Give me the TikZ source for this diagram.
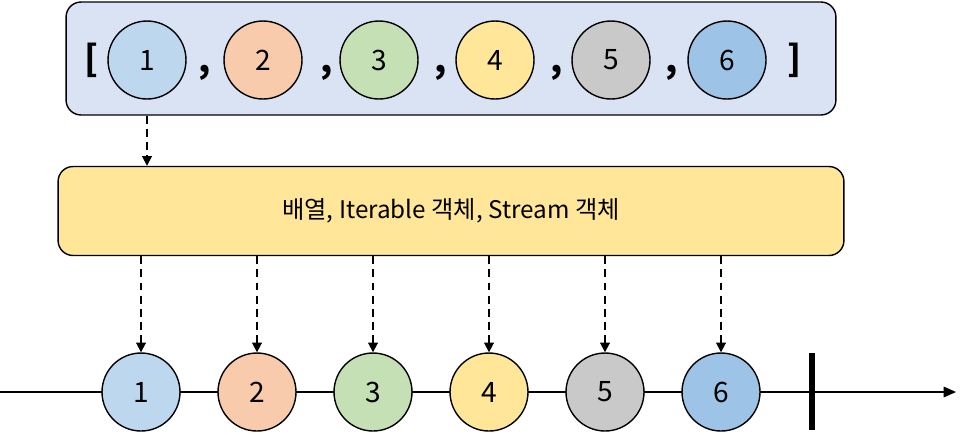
\documentclass[tikz,border=0pt]{standalone}
\usepackage{fontspec}
\setmainfont{Noto Sans CJK KR}
\usetikzlibrary{arrows.meta}
\definecolor{boxblue}{HTML}{DAE3F3}
\definecolor{boxyellow}{HTML}{FFE699}
\definecolor{ballone}{HTML}{BDD7EE}
\definecolor{balltwo}{HTML}{F8CBAD}
\definecolor{ballthree}{HTML}{C5E0B4}
\definecolor{ballfour}{HTML}{FFE699}
\definecolor{ballfive}{HTML}{C9C9C9}
\definecolor{ballsix}{HTML}{9DC3E6}
\tikzset{
  ball/.style={circle, draw, thick, minimum size=1.56cm, inner sep=0pt, font=\fontsize{16}{16}\selectfont},
  flow/.style={line width=1pt, dash pattern=on 4.5pt off 3pt, -{Triangle[length=5.5pt, width=5.5pt]}},
  bracket/.style={font=\bfseries\fontsize{20}{20}\selectfont},
  comma/.style={font=\bfseries\fontsize{20}{20}\selectfont}
}

\begin{document}
\begin{tikzpicture}[x=0.02cm, y=-0.02cm, thick]
  \useasboundingbox (0,0) rectangle (969,434);
  % array and source box
  \node[draw, fill=boxblue, rounded corners=0.3cm, minimum width=15.4cm, minimum height=2.26cm] (arr) at (451,58.5) {};
  \node[draw, fill=boxyellow, rounded corners=0.3cm, minimum width=15.72cm, minimum height=1.78cm, font=\fontsize{13.8}{13.8}\selectfont] (src) at (451,211) {배열, Iterable 객체, Stream 객체};
  \node[bracket] (lb) at (92,60) {[};
  \node[bracket] (rb) at (795,60) {]};
  \foreach \i/\c in {1/ballone, 2/balltwo, 3/ballthree, 4/ballfour, 5/ballfive, 6/ballsix}
    \node[ball, fill=\c] (a\i) at ({147+116*(\i-1)},60) {\i};
  \foreach \x/\n in {205/1, 327/2, 441/3, 557/4, 672/5}
    \node[comma] (c\n) at (\x,73) {,};
  \draw[flow] (arr.south -| a1) -- (src.north -| a1);
  % timeline
  \coordinate (start) at (0,392); \coordinate (end) at (956,392);
  \draw[-{Triangle[length=7pt, width=6pt]}] (start) -- (end);
  \coordinate (bartop) at (812,353); \coordinate (barbot) at (812,430);
  \draw[line width=3.4pt] (bartop) -- (barbot);
  \foreach \i/\c in {1/ballone, 2/balltwo, 3/ballthree, 4/ballfour, 5/ballfive, 6/ballsix} {
    \node[ball, fill=\c] (b\i) at ({141+116*(\i-1)},392) {\i};
    \draw[flow] (src.south -| b\i) -- (b\i);
  }
\end{tikzpicture}
\end{document}
